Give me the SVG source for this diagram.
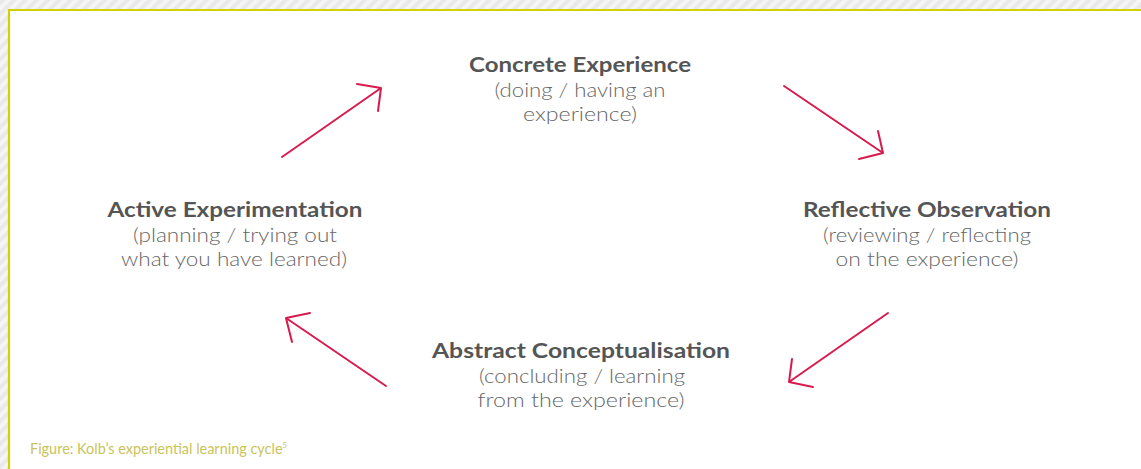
<svg xmlns="http://www.w3.org/2000/svg" width="1141" height="469" viewBox="0 0 1141 469">
<defs>
<pattern id="stripes" width="8" height="8" patternUnits="userSpaceOnUse" patternTransform="rotate(45)">
<rect width="8" height="8" fill="#f5f5f5"/>
<rect width="4" height="8" fill="#e9e9e9"/>
</pattern>
</defs>
<style>
.t{font-family:"Lato","Open Sans",sans-serif;font-weight:700;font-size:20px;fill:#555;text-anchor:middle}
.s{font-family:"Lato","Open Sans",sans-serif;font-weight:300;font-size:19px;fill:#666;text-anchor:middle}
.a{fill:none;stroke:#d81b4f;stroke-width:2;stroke-linecap:round;stroke-linejoin:round}
.cap{font-family:"Lato","Open Sans",sans-serif;font-weight:400;font-size:15px;fill:#c8c45a}
.sup{font-size:8px}
</style>
<rect width="1141" height="469" fill="url(#stripes)"/>
<rect x="9" y="10" width="1140" height="470" fill="#fff"/>
<path d="M9 469 V10 H1141" fill="none" stroke="#d2d000" stroke-width="2.2"/>
<g id="concrete">
<text class="t" x="580" y="72" textLength="222" lengthAdjust="spacingAndGlyphs">Concrete Experience</text>
<text class="s" x="580" y="97" textLength="171" lengthAdjust="spacingAndGlyphs">(doing / having an</text>
<text class="s" x="580" y="121" textLength="114" lengthAdjust="spacingAndGlyphs">experience)</text>
</g>
<g id="reflective">
<text class="t" x="927" y="217" textLength="248" lengthAdjust="spacingAndGlyphs">Reflective Observation</text>
<text class="s" x="927" y="242" textLength="208" lengthAdjust="spacingAndGlyphs">(reviewing / reflecting</text>
<text class="s" x="927" y="266" textLength="183" lengthAdjust="spacingAndGlyphs">on the experience)</text>
</g>
<g id="abstract">
<text class="t" x="581" y="358" textLength="298" lengthAdjust="spacingAndGlyphs">Abstract Conceptualisation</text>
<text class="s" x="582" y="383" textLength="206" lengthAdjust="spacingAndGlyphs">(concluding / learning</text>
<text class="s" x="581" y="407" textLength="207" lengthAdjust="spacingAndGlyphs">from the experience)</text>
</g>
<g id="active">
<text class="t" x="235" y="217" textLength="255" lengthAdjust="spacingAndGlyphs">Active Experimentation</text>
<text class="s" x="235" y="242" textLength="204" lengthAdjust="spacingAndGlyphs">(planning / trying out</text>
<text class="s" x="234" y="266" textLength="226" lengthAdjust="spacingAndGlyphs">what you have learned)</text>
</g>
<g id="connectors">
<path class="a" d="M282 157 L381 88 M357 84 L381 88 L378 111"/>
<path class="a" d="M784 86 L883 153 M878 131 L883 153 L859 159"/>
<path class="a" d="M888 313 L789 382 M792 359 L789 382 L813 387"/>
<path class="a" d="M386 386 L286 318 M310 313 L286 318 L292 342"/>
</g>
<g id="caption">
<text class="cap" x="30" y="454" textLength="257" lengthAdjust="spacingAndGlyphs">Figure: Kolb’s experiential learning cycle<tspan class="sup" dy="-6">5</tspan></text>
</g>
</svg>
